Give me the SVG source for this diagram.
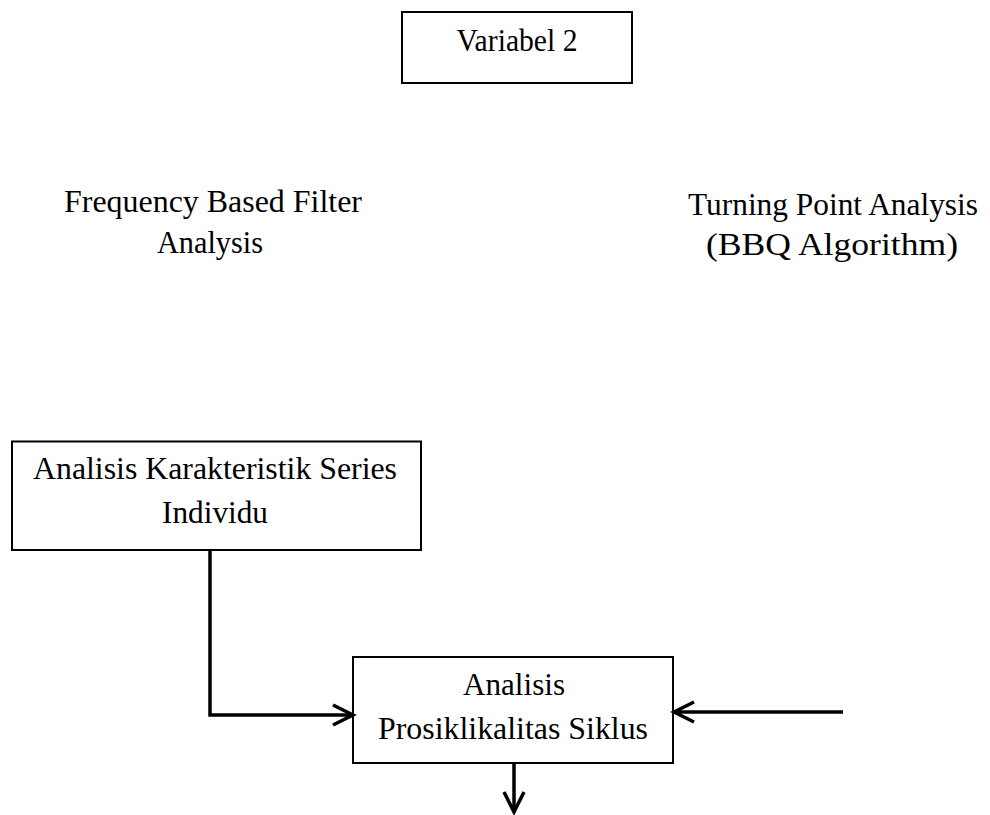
<svg xmlns="http://www.w3.org/2000/svg" width="990" height="815" viewBox="0 0 990 815">
<style>
.box{fill:#fff;stroke:#000;stroke-width:2}
.t{font-family:"Liberation Serif","Times New Roman",serif;font-size:32px;fill:#000;text-anchor:middle}
.c{fill:none;stroke:#000;stroke-width:3.5}
</style>
<defs>
<marker id="ah" markerUnits="userSpaceOnUse" markerWidth="26" markerHeight="26" refX="22" refY="12" orient="auto" viewBox="0 0 26 24">
<path d="M2,2 L22,12 L2,22" fill="none" stroke="#000" stroke-width="3.5"/>
</marker>
</defs>
<rect width="990" height="815" fill="#fff"/>
<g id="variabel2">
<rect class="box" x="402" y="12" width="230" height="71"/>
<text class="t" x="517" y="51" textLength="121" lengthAdjust="spacingAndGlyphs">Variabel 2</text>
</g>
<g id="frequency">
<text class="t" x="213" y="212" textLength="298" lengthAdjust="spacingAndGlyphs">Frequency Based Filter</text>
<text class="t" x="210" y="253" textLength="106" lengthAdjust="spacingAndGlyphs">Analysis</text>
</g>
<g id="turning">
<text class="t" x="833" y="215" textLength="290" lengthAdjust="spacingAndGlyphs">Turning Point Analysis</text>
<text class="t" x="832" y="255" textLength="252" lengthAdjust="spacingAndGlyphs">(BBQ Algorithm)</text>
</g>
<g id="karakteristik">
<rect class="box" x="12" y="441.5" width="409" height="108.5"/>
<text class="t" x="215" y="479" textLength="364" lengthAdjust="spacingAndGlyphs">Analisis Karakteristik Series</text>
<text class="t" x="215" y="523" textLength="106" lengthAdjust="spacingAndGlyphs">Individu</text>
</g>
<g id="prosiklikalitas">
<rect class="box" x="353" y="657" width="320" height="106"/>
<text class="t" x="514" y="695" textLength="102" lengthAdjust="spacingAndGlyphs">Analisis</text>
<text class="t" x="513" y="739" textLength="270" lengthAdjust="spacingAndGlyphs">Prosiklikalitas Siklus</text>
</g>
<g id="connectors">
<path class="c" d="M210,550 V715 H353" marker-end="url(#ah)"/>
<path class="c" d="M843,712 H674" marker-end="url(#ah)"/>
<path class="c" d="M514,763 V812" marker-end="url(#ah)"/>
</g>
</svg>
